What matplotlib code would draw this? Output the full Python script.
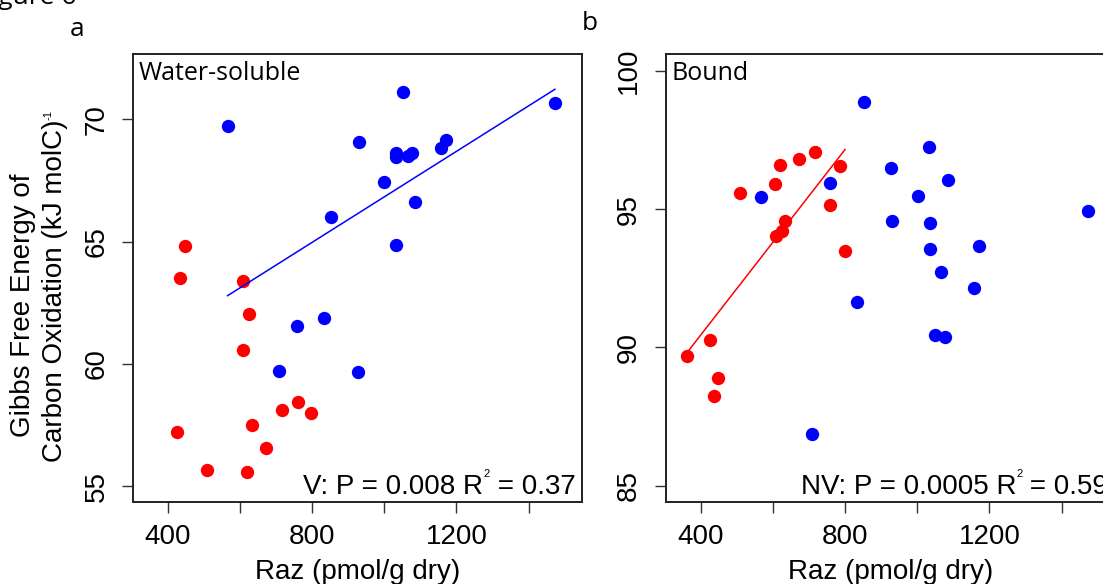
import matplotlib
matplotlib.use("Agg")
import matplotlib.pyplot as plt
import numpy as np

plt.rcParams['font.family'] = ['Liberation Sans', 'DejaVu Sans']

# ---------------- data ----------------
# Panel a: Water-soluble
a_blue_x = [1052, 1473, 566, 931, 1171, 1157, 1034, 1034, 1065, 1077, 1000, 1086, 853, 1033,
            833, 757, 709, 927]
a_blue_y = [71.10, 70.68, 69.74, 69.06, 69.17, 68.83, 68.61, 68.47, 68.51, 68.61, 67.42, 66.61,
            66.02, 64.86, 61.86, 61.56, 59.72, 59.65]
a_red_x = [448, 435, 609, 626, 608, 760, 718, 798, 634, 427, 673, 509, 619]
a_red_y = [64.83, 63.51, 63.40, 62.02, 60.55, 58.43, 58.11, 57.98, 57.50, 57.20, 56.57, 55.67, 55.56]
a_fit = (57.52, 0.009306)  # intercept, slope (blue group)

# Panel b: Bound
b_blue_x = [853, 1033, 927, 1085, 757, 567, 1001, 1474, 931, 1035, 1035, 1172, 1067, 1158,
            833, 1050, 1076, 708]
b_blue_y = [98.87, 97.25, 96.47, 96.04, 95.95, 95.43, 95.46, 94.94, 94.58, 94.49, 93.57, 93.68,
            92.73, 92.16, 91.65, 90.44, 90.37, 86.86]
b_red_x = [718, 673, 621, 786, 606, 510, 759, 633, 626, 608, 800, 426, 362, 448, 436]
b_red_y = [97.06, 96.81, 96.60, 96.56, 95.91, 95.59, 95.15, 94.57, 94.22, 94.03, 93.50,
           90.28, 89.68, 88.90, 88.24]
b_fit = (83.75, 0.01675)  # intercept, slope (red group)

x_ticks = [400, 600, 800, 1000, 1200, 1400]
x_ticklabels = ['400', '', '800', '', '1200', '']
a_yticks = [55, 60, 65, 70]
b_yticks = [85, 90, 95, 100]

W, H = 1103, 584
fig = plt.figure(figsize=(W / 100, H / 100), dpi=100)

def px_rect(l, t, r, b):
    return [l / W, 1 - b / H, (r - l) / W, (b - t) / H]

ax_a = fig.add_axes(px_rect(133, 54, 582, 502))
ax_b = fig.add_axes(px_rect(665.7, 54, 1115, 502))

BLUE = '#0000FF'
RED = '#FF0000'
HUM = ['Open Sans', 'DejaVu Sans']

def style(ax, xlim, ylim, yticks):
    ax.set_xlim(*xlim)
    ax.set_ylim(*ylim)
    ax.set_xticks(x_ticks)
    ax.set_xticklabels(x_ticklabels)
    ax.set_yticks(yticks)
    ax.set_yticklabels([str(v) for v in yticks], rotation=90, va='center')
    ax.tick_params(axis='both', direction='out', length=8, width=1.0, labelsize=20,
                   color='#333333')
    ax.tick_params(axis='x', pad=8)
    ax.tick_params(axis='y', pad=9)
    for s in ax.spines.values():
        s.set_linewidth(1.4)
        s.set_color('#222222')
    ax.set_xlabel('Raz (pmol/g dry)', fontsize=20, labelpad=6)

def stat_text(ax, left, right):
    t3 = ax.text(0.985, 0.005, right, transform=ax.transAxes, ha='right', va='bottom',
                 fontsize=20)
    t2 = ax.annotate('2', xy=(0, 0.80), xycoords=t3, ha='right', va='bottom', fontsize=8)
    ax.annotate(left, xy=(0, 0), xycoords=(t2, t3), ha='right', va='bottom', fontsize=20)

# Panel a
ax_a.plot(a_red_x, a_red_y, 'o', color=RED, ms=9.6, mew=0, zorder=3)
ax_a.plot(a_blue_x, a_blue_y, 'o', color=BLUE, ms=9.6, mew=0, zorder=3)
xa = np.array([min(a_blue_x), max(a_blue_x)])
ax_a.plot(xa, a_fit[0] + a_fit[1] * xa, color=BLUE, lw=1.1, zorder=4)
style(ax_a, (304, 1548), (54.35, 72.67), a_yticks)
ax_a.text(0.012, 0.985, 'Water-soluble', transform=ax_a.transAxes, ha='left', va='top',
          fontsize=18, family=HUM)
stat_text(ax_a, 'V: P = 0.008 R', ' = 0.37')

# Panel b
ax_b.plot(b_red_x, b_red_y, 'o', color=RED, ms=9.6, mew=0, zorder=3)
ax_b.plot(b_blue_x, b_blue_y, 'o', color=BLUE, ms=9.6, mew=0, zorder=3)
xb = np.array([min(b_red_x), max(b_red_x)])
ax_b.plot(xb, b_fit[0] + b_fit[1] * xb, color=RED, lw=1.1, zorder=4)
style(ax_b, (303, 1548), (84.42, 100.6), b_yticks)
ax_b.text(0.012, 0.985, 'Bound', transform=ax_b.transAxes, ha='left', va='top',
          fontsize=18, family=HUM)
stat_text(ax_b, 'NV: P = 0.0005 R', ' = 0.59')

# y-axis label (two lines)
fig.text(23 / W, 1 - 437 / H, 'Gibbs Free Energy of', rotation=90, rotation_mode='anchor',
         ha='left', va='center', fontsize=20)
yl2 = fig.text(55 / W, 1 - 462 / H, 'Carbon Oxidation (kJ molC)', rotation=90,
               rotation_mode='anchor', ha='left', va='center', fontsize=20)
fig.add_artist(plt.Annotation('-1', xy=(0.05, 1.0), xycoords=yl2, rotation=90,
                              ha='left', va='bottom', fontsize=8))

# panel letters and partial figure title
fig.text(77 / W, 1 - 36 / H, 'a', ha='center', va='baseline', fontsize=19, family=HUM)
fig.text(590 / W, 1 - 30 / H, 'b', ha='center', va='baseline', fontsize=19, family=HUM)
fig.text(76 / W, 1 - 4 / H, 'Figure 6', ha='right', va='baseline', fontsize=19, family=HUM)

fig.savefig('out.png', dpi=100)
